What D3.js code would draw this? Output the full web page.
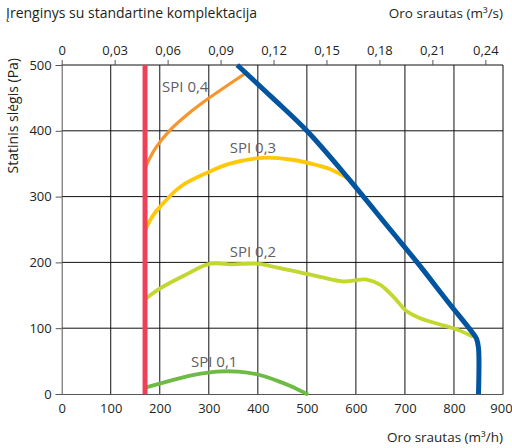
<!DOCTYPE html>
<html lang="lt">
<head>
<meta charset="UTF-8">
<script src="https://d3js.org/d3.v7.min.js"></script>
<style>
  body { margin: 0; background: #fff; }
  svg { display: block; font-family: "Open Sans", sans-serif; }
</style>
</head>
<body>
<svg id="chart" width="512" height="448"></svg>
<script>
// flow in m3/h, pressure in Pa
const xTicks = [0, 100, 200, 300, 400, 500, 600, 700, 800, 900];
const yTicks = [0, 100, 200, 300, 400, 500];
const topTicks = [0, 0.03, 0.06, 0.09, 0.12, 0.15, 0.18, 0.21, 0.24];

const limitFlow = 170;

const maxCurve = [[358, 500], [430, 450], [500, 400], [582, 330], [670, 250], [725, 200],
  [790, 138], [836, 95], [846, 84], [850, 70], [850, 0]];
const spi04 = [[170, 343], [190, 372], [221, 401], [260, 427], [299, 449], [340, 470], [376, 488]];
const spi03 = [[170, 249], [185, 270], [200, 284], [242, 315], [299, 337], [343, 350], [411, 359],
  [470, 356], [520, 348], [547, 342], [583, 328]];
const spi02 = [[170, 144], [200, 160], [250, 180], [303, 198], [350, 197], [398, 198], [440, 192],
  [486, 185], [527, 178], [575, 171], [622, 174], [650, 166], [680, 145], [703, 126], [731, 115],
  [770, 106], [806, 98], [836, 88]];
const spi01 = [[172, 10], [220, 20], [270, 29], [316, 34], [360, 34], [398, 30], [440, 20],
  [470, 11], [500, 0]];

const series = [
  { name: "SPI 0,4", pts: spi04, color: "#f7962e", w: 3.2, label: [252, 459] },
  { name: "SPI 0,3", pts: spi03, color: "#ffc80a", w: 3.8, label: [390, 366] },
  { name: "SPI 0,2", pts: spi02, color: "#c2d72f", w: 3.8, label: [390, 208] },
  { name: "SPI 0,1", pts: spi01, color: "#6dbb45", w: 3.8, label: [311, 41] }
];

const svg = d3.select("#chart");
const x = d3.scaleLinear().domain([0, 900]).range([61.7, 503]);
const y = d3.scaleLinear().domain([0, 500]).range([394, 65]);
const xTop = d3.scaleLinear().domain([0, 0.25]).range([61.7, 503]);

// grid
svg.append("g").selectAll("line").data(xTicks.slice(1)).join("line")
  .attr("x1", d => x(d)).attr("x2", d => x(d))
  .attr("y1", y(0)).attr("y2", y(500))
  .attr("stroke", "#111").attr("stroke-width", 1);
svg.append("g").selectAll("line").data(yTicks.slice(1)).join("line")
  .attr("x1", x(0)).attr("x2", x(900))
  .attr("y1", d => y(d)).attr("y2", d => y(d))
  .attr("stroke", "#111").attr("stroke-width", 1);

// axes
const leftAxis = svg.append("g").attr("transform", `translate(${x(0)},0)`)
  .call(d3.axisLeft(y).tickValues(yTicks).tickSize(6).tickPadding(4));
const bottomAxis = svg.append("g").attr("transform", `translate(0,${y(0)})`)
  .call(d3.axisBottom(x).tickValues(xTicks).tickSize(0).tickPadding(10));
const topAxis = svg.append("g").attr("transform", `translate(0,${y(500)})`)
  .call(d3.axisTop(xTop).tickValues(topTicks).tickSize(5).tickPadding(5)
    .tickFormat(d => d === 0 ? "0" : d3.format(".2f")(d).replace(".", ",")));

[leftAxis, bottomAxis, topAxis].forEach(g => {
  g.selectAll(".domain").attr("stroke", "#555");
  g.selectAll(".tick line").attr("stroke", "#555");
  g.selectAll("text").attr("fill", "#231f20").style("font-size", "13px")
    .style("font-family", "'Open Sans', sans-serif");
});
topAxis.select(".domain").remove();
// keep the last bottom label inside the frame
bottomAxis.selectAll(".tick text").filter(d => d === 900).attr("dx", "-2");

// curves
const line = d3.line().x(d => x(d[0])).y(d => y(d[1])).curve(d3.curveCatmullRom.alpha(0.5));

series.forEach(s => {
  svg.append("path").attr("d", line(s.pts))
    .attr("fill", "none").attr("stroke", s.color)
    .attr("stroke-width", s.w).attr("stroke-linecap", "round");
  svg.append("text").attr("x", x(s.label[0])).attr("y", y(s.label[1]))
    .attr("text-anchor", "middle").attr("fill", "#5f6062")
    .style("font-size", "15px").text(s.name);
});

svg.append("path").attr("d", line(maxCurve))
  .attr("fill", "none").attr("stroke", "#0054a0").attr("stroke-width", 5);

svg.append("line")
  .attr("x1", x(limitFlow)).attr("x2", x(limitFlow))
  .attr("y1", y(0)).attr("y2", y(500))
  .attr("stroke", "#ee4157").attr("stroke-width", 5);

// titles
svg.append("text").attr("x", 6).attr("y", 18).attr("fill", "#231f20")
  .style("font-size", "14px").text("Įrenginys su standartine komplektacija");
svg.append("text").attr("x", 503).attr("y", 18).attr("text-anchor", "end").attr("fill", "#231f20")
  .style("font-size", "13.5px").text("Oro srautas (m³/s)");
svg.append("text").attr("x", 503).attr("y", 442).attr("text-anchor", "end").attr("fill", "#231f20")
  .style("font-size", "13.5px").text("Oro srautas (m³/h)");
svg.append("text").attr("transform", "translate(18,58) rotate(-90)")
  .attr("text-anchor", "end").attr("fill", "#231f20")
  .style("font-size", "14px").text("Statinis slėgis (Pa)");
</script>
</body>
</html>
